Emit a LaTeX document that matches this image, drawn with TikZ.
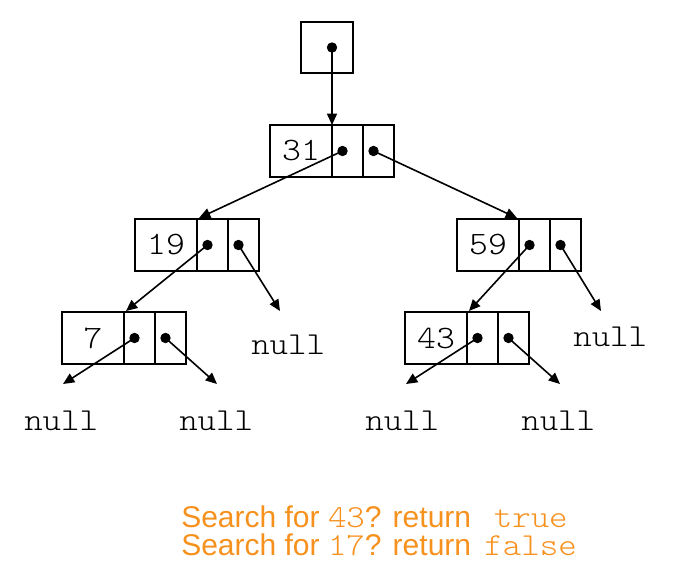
\documentclass[tikz,border=0pt]{standalone}
\usepackage{fontspec}
\usepackage{graphicx}
\setsansfont{Liberation Sans}
\setmonofont{Latin Modern Mono Light}
\usetikzlibrary{arrows.meta,calc}
\definecolor{srchorange}{RGB}{247,145,30}
\newcommand{\mtxt}[1]{\scalebox{1.1}[1]{\ttfamily #1}}
\begin{document}
\begin{tikzpicture}[x=0.75pt,y=-0.75pt,
  valcell/.style={draw,line width=1.2pt,minimum width=46.5pt,minimum height=39pt,inner sep=0pt,outer sep=0pt,anchor=north west,font=\fontsize{24.5pt}{28pt}\selectfont},
  ptrcell/.style={draw,line width=1.2pt,minimum width=23.25pt,minimum height=39pt,inner sep=0pt,outer sep=0pt,anchor=north west},
  rootbox/.style={draw,line width=1.2pt,minimum width=39pt,minimum height=38.25pt,inner sep=0pt,outer sep=0pt,anchor=north west},
  dotnode/.style={circle,fill=black,minimum size=7.8pt,inner sep=0pt},
  arr/.style={line width=1.2pt,-{Triangle[length=8.5pt,width=7.5pt]}},
  nulltxt/.style={anchor=base west,inner sep=0pt,font=\fontsize{24pt}{28pt}\selectfont},
  srch/.style={anchor=base west,inner sep=0pt,text height=16.5pt,text depth=4pt,text=srchorange,font=\fontsize{22.5pt}{26pt}\selectfont\sffamily}]
\useasboundingbox (0,0) rectangle (685,572);

% root pointer
\node[rootbox] (root) at (301,22) {};
\node[dotnode] (rootd) at ($(root.center)+(5,0)$) {};

% list nodes
\foreach \nm/\x/\y/\v in {n31/270/125/31, n19/135/219/19, n59/457/219/59, n7/62/312/7, n43/405/312/43}{
  \node[valcell] (\nm) at (\x,\y) {\mtxt{\v}};
  \node[ptrcell] (\nm l) at (\nm.north east) {};
  \node[ptrcell] (\nm r) at (\nm l.north east) {};
  \node[dotnode] (\nm ld) at ($(\nm l.center)+(-5,0)$) {};
  \node[dotnode] (\nm rd) at ($(\nm r.center)+(-5,0)$) {};
}

% null labels
\node[nulltxt] (null19) at (251,354) {\mtxt{null}};
\node[nulltxt] (null59) at (573,346) {\mtxt{null}};
\node[nulltxt] (null7a) at (24,430) {\mtxt{null}};
\node[nulltxt] (null7b) at (179,430) {\mtxt{null}};
\node[nulltxt] (null43a) at (365,430) {\mtxt{null}};
\node[nulltxt] (null43b) at (521,430) {\mtxt{null}};

% free ends
\coordinate (e19) at (280,311);
\coordinate (e59) at (601,311);
\coordinate (e7a) at (63,384);
\coordinate (e7b) at (217,384);
\coordinate (e43a) at (406,384);
\coordinate (e43b) at (560,384);

% connectors
\draw[arr] (rootd.center) -- (rootd.center |- n31.north);
\draw[arr] (n31ld.center) -- ($(n19l.north west)+(2,-1)$);
\draw[arr] (n31rd.center) -- ($(n59l.north west)+(-2,-1)$);
\draw[arr] (n19ld.center) -- ($(n7l.north west)+(2,-1)$);
\draw[arr] (n19rd.center) -- (e19);
\draw[arr] (n59ld.center) -- ($(n43l.north west)+(2,-1)$);
\draw[arr] (n59rd.center) -- (e59);
\draw[arr] (n7ld.center) -- (e7a);
\draw[arr] (n7rd.center) -- (e7b);
\draw[arr] (n43ld.center) -- (e43a);
\draw[arr] (n43rd.center) -- (e43b);

% search text
\node[srch] (s1) at (181,527.3) {Search for {\fontsize{24pt}{28pt}\selectfont\mtxt{43}}? return\hspace{17pt}{\fontsize{24pt}{28pt}\selectfont\mtxt{true}}};
\node[srch] (s2) at (181,555.3) {Search for {\fontsize{24pt}{28pt}\selectfont\mtxt{17}}? return\hspace{10pt}{\fontsize{24pt}{28pt}\selectfont\mtxt{false}}};
\end{tikzpicture}
\end{document}
